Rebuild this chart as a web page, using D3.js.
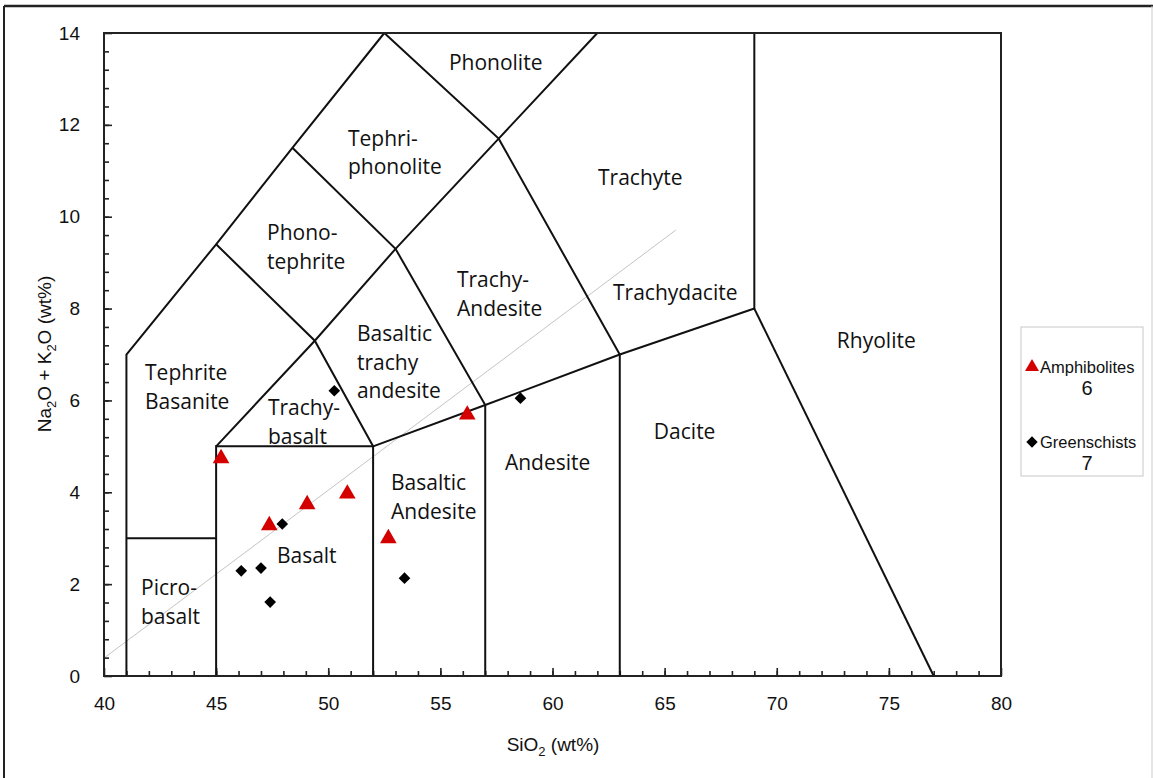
<!DOCTYPE html>
<html>
<head>
<meta charset="utf-8">
<script src="https://cdn.jsdelivr.net/npm/d3@7"></script>
<style>
  body { margin: 0; background: #fff; }
  svg { display: block; }
  .tick-label { font-family: "Liberation Sans", Arial, sans-serif; font-size: 19px; fill: #111; }
  .field-label { font-family: "Open Sans", sans-serif; font-size: 21px; fill: #111; }
  .legend-text { font-family: "Liberation Sans", Arial, sans-serif; fill: #111; }
</style>
</head>
<body>
<div id="chart"></div>
<script>
'use strict';

// TAS field boundaries, in (SiO2, Na2O+K2O) wt%
var boundaries = [
    [[41, 0], [41, 7], [45, 9.4], [48.4, 11.5], [52.5, 14]],
    [[41, 3], [45, 3]],
    [[45, 0], [45, 5], [52, 5], [52, 0]],
    [[52, 5], [57, 5.9], [63, 7], [69, 8], [69, 14]],
    [[69, 8], [77, 0]],
    [[57, 0], [57, 5.9]],
    [[63, 0], [63, 7]],
    [[45, 5], [49.4, 7.3], [53, 9.3], [57.6, 11.7], [62, 14]],
    [[52, 5], [49.4, 7.3], [45, 9.4]],
    [[57, 5.9], [53, 9.3], [48.4, 11.5]],
    [[63, 7], [57.6, 11.7], [52.5, 14]]
];

// alkaline / subalkaline divide (grey line)
var dividerLine = [[40, 0.39], [65.5, 9.71]];

// field names: lines of text, left x, first-line y (data units)
var fieldNames = [
    { lines: ['Phonolite'], x: 55.38, y: 13.35 },
    { lines: ['Tephri-', 'phonolite'], x: 50.88, y: 11.71 },
    { lines: ['Trachyte'], x: 62.03, y: 10.84 },
    { lines: ['Phono-', 'tephrite'], x: 47.27, y: 9.65 },
    { lines: ['Trachy-', 'Andesite'], x: 55.74, y: 8.62 },
    { lines: ['Trachydacite'], x: 62.7, y: 8.34 },
    { lines: ['Rhyolite'], x: 72.68, y: 7.3 },
    { lines: ['Basaltic', 'trachy', 'andesite'], x: 51.28, y: 7.45 },
    { lines: ['Tephrite', 'Basanite'], x: 41.83, y: 6.6 },
    { lines: ['Trachy-', 'basalt'], x: 47.31, y: 5.84 },
    { lines: ['Dacite'], x: 64.52, y: 5.31 },
    { lines: ['Andesite'], x: 57.88, y: 4.64 },
    { lines: ['Basaltic', 'Andesite'], x: 52.8, y: 4.2 },
    { lines: ['Basalt'], x: 47.71, y: 2.61 },
    { lines: ['Picro-', 'basalt'], x: 41.65, y: 1.92 }
];

var amphibolitesSiO2 = [45.22, 47.37, 49.06, 50.85, 52.68, 56.2];
var amphibolitesAlk = [4.77, 3.31, 3.77, 4.0, 3.03, 5.72];

var greenschistsSiO2 = [50.27, 47.95, 46.12, 47.0, 47.41, 53.4, 58.57];
var greenschistsAlk = [6.21, 3.31, 2.29, 2.35, 1.61, 2.13, 6.05];

var xTicks = [40, 45, 50, 55, 60, 65, 70, 75, 80];
var yTicks = [0, 2, 4, 6, 8, 10, 12, 14];

var width = 1153,
    height = 778;

var x = d3.scaleLinear().domain([40, 80]).range([104, 1001]);
var y = d3.scaleLinear().domain([0, 14]).range([676, 33]);

var svg = d3.select('#chart').append('svg')
    .attr('width', width)
    .attr('height', height);

// outer frame
svg.append('line').attr('x1', 4).attr('x2', width).attr('y1', 6).attr('y2', 6)
    .attr('stroke', '#222').attr('stroke-width', 2.5);
svg.append('line').attr('x1', 4).attr('x2', 4).attr('y1', 6).attr('y2', height)
    .attr('stroke', '#222').attr('stroke-width', 2);
svg.append('line').attr('x1', 1152).attr('x2', 1152).attr('y1', 6).attr('y2', height)
    .attr('stroke', '#ccc').attr('stroke-width', 1);

var line = d3.line()
    .x(function (d) { return x(d[0]); })
    .y(function (d) { return y(d[1]); });

// grey divider
svg.append('path')
    .attr('d', line(dividerLine))
    .attr('fill', 'none')
    .attr('stroke', '#c4c4c4')
    .attr('stroke-width', 1);

// minor / major ticks (inward)
var minorX = d3.range(41, 80, 1);
var minorY = d3.range(0.4, 14, 0.4);

svg.append('g')
    .attr('transform', 'translate(0,' + y(0) + ')')
    .call(d3.axisBottom(x).tickValues(minorX).tickSize(-5).tickFormat(''))
    .call(function (g) { g.select('.domain').remove(); })
    .selectAll('line').attr('stroke', '#222').attr('stroke-width', 1.6);
svg.append('g')
    .attr('transform', 'translate(0,' + y(0) + ')')
    .call(d3.axisBottom(x).tickValues(xTicks).tickSize(-8).tickPadding(21))
    .call(function (g) {
        g.select('.domain').remove();
        g.selectAll('line').attr('stroke', '#222').attr('stroke-width', 1.6);
        g.selectAll('text').attr('class', 'tick-label').attr('font-size', null)
            .attr('font-family', null).attr('fill', null);
    });

svg.append('g')
    .attr('transform', 'translate(' + x(40) + ',0)')
    .call(d3.axisLeft(y).tickValues(minorY).tickSize(-5).tickFormat(''))
    .call(function (g) { g.select('.domain').remove(); })
    .selectAll('line').attr('stroke', '#222').attr('stroke-width', 1.6);
svg.append('g')
    .attr('transform', 'translate(' + x(40) + ',0)')
    .call(d3.axisLeft(y).tickValues(yTicks).tickSize(-8).tickPadding(24))
    .call(function (g) {
        g.select('.domain').remove();
        g.selectAll('line').attr('stroke', '#222').attr('stroke-width', 1.6);
        g.selectAll('text').attr('class', 'tick-label').attr('font-size', null)
            .attr('font-family', null).attr('fill', null);
    });

// field boundaries
svg.append('g').selectAll('path')
    .data(boundaries)
    .enter().append('path')
    .attr('d', line)
    .attr('fill', 'none')
    .attr('stroke', '#111')
    .attr('stroke-width', 2)
    .attr('stroke-linejoin', 'miter');

// plot frame
svg.append('rect')
    .attr('x', x(40)).attr('y', y(14))
    .attr('width', x(80) - x(40)).attr('height', y(0) - y(14))
    .attr('fill', 'none')
    .attr('stroke', '#222')
    .attr('stroke-width', 2);

// field names
var names = svg.append('g').selectAll('text')
    .data(fieldNames)
    .enter().append('text')
    .attr('class', 'field-label')
    .attr('transform', function (d) { return 'translate(' + x(d.x) + ',' + y(d.y) + ')'; });
names.selectAll('tspan')
    .data(function (d) { return d.lines; })
    .enter().append('tspan')
    .attr('x', 0)
    .attr('y', function (d, i) { return i * 28.5; })
    .attr('dy', '0.35em')
    .text(function (d) { return d; });

// axis titles
svg.append('text')
    .attr('class', 'tick-label')
    .attr('x', 553).attr('y', 751)
    .attr('text-anchor', 'middle')
    .call(function (t) {
        t.append('tspan').text('SiO');
        t.append('tspan').attr('font-size', '13px').attr('dy', 5).text('2');
        t.append('tspan').attr('dy', -5).text(' (wt%)');
    });

svg.append('text')
    .attr('class', 'tick-label')
    .attr('transform', 'translate(51,354) rotate(-90)')
    .attr('text-anchor', 'middle')
    .call(function (t) {
        t.append('tspan').text('Na');
        t.append('tspan').attr('font-size', '13px').attr('dy', 5).text('2');
        t.append('tspan').attr('dy', -5).text('O + K');
        t.append('tspan').attr('font-size', '13px').attr('dy', 5).text('2');
        t.append('tspan').attr('dy', -5).text('O (wt%)');
    });

// samples
var triangle = d3.symbol().type(d3.symbolTriangle).size(120);
var diamond = d3.symbol().type(d3.symbolSquare).size(68);

svg.append('g').selectAll('path')
    .data(greenschistsSiO2)
    .enter().append('path')
    .attr('d', diamond)
    .attr('transform', function (d, i) {
        return 'translate(' + x(d) + ',' + y(greenschistsAlk[i]) + ') rotate(45)';
    })
    .attr('fill', '#000');

svg.append('g').selectAll('path')
    .data(amphibolitesSiO2)
    .enter().append('path')
    .attr('d', triangle)
    .attr('transform', function (d, i) {
        return 'translate(' + x(d) + ',' + (y(amphibolitesAlk[i]) + 1.5) + ')';
    })
    .attr('fill', '#d40000');

// legend
var legend = svg.append('g');
legend.append('rect')
    .attr('x', 1021).attr('y', 327).attr('width', 122).attr('height', 149)
    .attr('fill', '#fff').attr('stroke', '#c8c8c8').attr('stroke-width', 1);

var legendItems = [
    { name: 'Amphibolites', count: amphibolitesSiO2.length,
      sym: d3.symbol().type(d3.symbolTriangle).size(85), color: '#d40000', rot: 0, y: 367 },
    { name: 'Greenschists', count: greenschistsSiO2.length,
      sym: d3.symbol().type(d3.symbolSquare).size(64), color: '#000', rot: 45, y: 442 }
];
legendItems.forEach(function (item) {
    legend.append('path')
        .attr('d', item.sym())
        .attr('transform', 'translate(1032,' + item.y + ') rotate(' + item.rot + ')')
        .attr('fill', item.color);
    legend.append('text')
        .attr('class', 'legend-text')
        .attr('x', 1040).attr('y', item.y)
        .attr('dy', '0.35em')
        .attr('font-size', '16.5px')
        .text(item.name);
    legend.append('text')
        .attr('class', 'legend-text')
        .attr('x', 1087).attr('y', item.y + 21)
        .attr('dy', '0.35em')
        .attr('text-anchor', 'middle')
        .attr('font-size', '20px')
        .text(item.count);
});
</script>
</body>
</html>
